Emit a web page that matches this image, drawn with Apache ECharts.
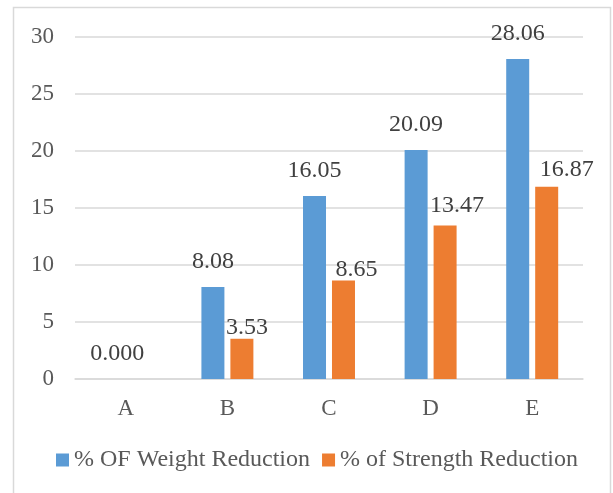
<!DOCTYPE html>
<html>
<head>
<meta charset="utf-8">
<script src="https://cdn.jsdelivr.net/npm/echarts@6/dist/echarts.min.js"></script>
<style>html,body{margin:0;padding:0;background:#fff;}#c{width:613px;height:493px;}</style>
</head>
<body>
<div id="c"></div>
<script>
var categories = ['A', 'B', 'C', 'D', 'E'];
var weightReduction = [0, 8.08, 16.05, 20.09, 28.06];
var strengthReduction = [0, 3.53, 8.65, 13.47, 16.87];
var weightLabels = ['0.000', '8.08', '16.05', '20.09', '28.06'];
var strengthLabels = ['', '3.53', '8.65', '13.47', '16.87'];
var seriesNames = ['% OF Weight Reduction', '% of Strength Reduction'];

// label placement tweaks (pixels), as in the original figure
var weightLabelShift = [[6, 0], [0, 0], [0, 0], [0, 0], [0, 0]];
var strengthLabelShift = [[0, 0], [5, 1], [13, 1], [12, -8], [20, -5]];

var FONT = '"Liberation Serif", "Times New Roman", serif';
var chart = echarts.init(document.getElementById('c'), null, {renderer: 'canvas'});
chart.setOption({
  animation: false,
  backgroundColor: '#fff',
  textStyle: {fontFamily: FONT},
  graphic: [{
    type: 'rect', silent: true, z: -1,
    shape: {x: 13.5, y: 7.5, width: 597, height: 520},
    style: {fill: 'none', stroke: '#D9D9D9', lineWidth: 1.5}
  }],
  grid: {left: 75, right: 30, top: 37, bottom: 114, containLabel: false},
  legend: {
    data: seriesNames,
    bottom: 16,
    left: 51,
    itemWidth: 13, itemHeight: 13, itemGap: 12,
    icon: 'rect',
    textStyle: {fontFamily: FONT, fontSize: 24, color: '#595959'}
  },
  xAxis: {
    type: 'category',
    data: categories,
    axisLine: {lineStyle: {color: '#D9D9D9', width: 1.5}},
    axisTick: {show: false},
    axisLabel: {fontFamily: FONT, fontSize: 23, color: '#595959', margin: 18}
  },
  yAxis: {
    type: 'value',
    min: 0, max: 30, interval: 5,
    axisLine: {show: false},
    axisTick: {show: false},
    splitLine: {lineStyle: {color: '#D9D9D9', width: 1.5}},
    axisLabel: {fontFamily: FONT, fontSize: 23, color: '#595959', margin: 21}
  },
  series: [
    {
      name: seriesNames[0], type: 'bar',
      data: weightReduction.map(function (v, i) {
        return {value: v, label: {formatter: weightLabels[i], offset: weightLabelShift[i]}};
      }),
      barWidth: 23, barGap: '26%',
      itemStyle: {color: '#5B9BD5'},
      label: {show: true, position: 'top', distance: 13, fontFamily: FONT, fontSize: 24, color: '#404040'}
    },
    {
      name: seriesNames[1], type: 'bar',
      data: strengthReduction.map(function (v, i) {
        return {value: v, label: {show: strengthLabels[i] !== '', formatter: strengthLabels[i], offset: strengthLabelShift[i]}};
      }),
      barWidth: 23,
      itemStyle: {color: '#ED7D31'},
      label: {show: true, position: 'top', distance: 0, fontFamily: FONT, fontSize: 24, color: '#404040'}
    }
  ]
});
</script>
</body>
</html>
